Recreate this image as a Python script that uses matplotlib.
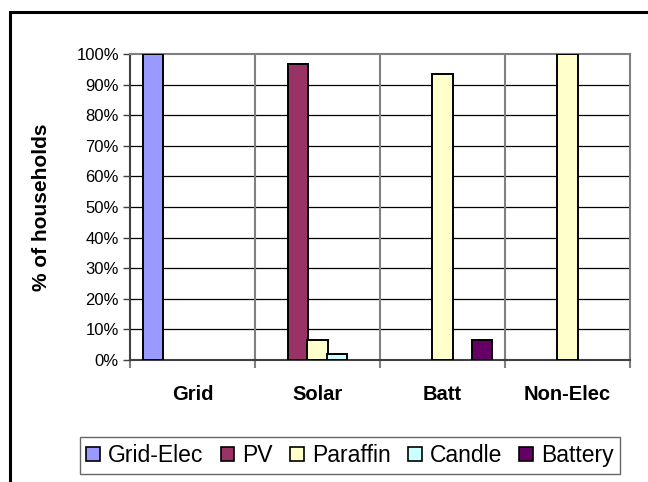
import matplotlib
matplotlib.use("Agg")
import matplotlib.pyplot as plt
from matplotlib.patches import Rectangle, Patch
import numpy as np

plt.rcParams['font.family'] = ['Liberation Sans', 'DejaVu Sans']

categories = ["Grid", "Solar", "Batt", "Non-Elec"]
series_names = ["Grid-Elec", "PV", "Paraffin", "Candle", "Battery"]
grid_elec = [100.0, 0.0, 0.0, 0.0]
pv = [0.0, 96.7, 0.0, 0.0]
paraffin = [0.0, 6.5, 93.4, 100.0]
candle = [0.0, 2.1, 0.0, 0.0]
battery = [0.0, 0.0, 6.5, 0.0]
series_values = [grid_elec, pv, paraffin, candle, battery]
colors = ["#9999FF", "#993366", "#FFFFCC", "#CCFFFF", "#660066"]
y_ticks = list(range(0, 101, 10))

W, H = 648, 482
fig = plt.figure(figsize=(W / 100, H / 100), dpi=100)
ax = fig.add_axes([130 / W, 1 - 360 / H, 500 / W, 306 / H])

x = np.arange(len(categories))
bar_w = 0.163
step = 0.158
for i, (name, vals, col) in enumerate(zip(series_names, series_values, colors)):
    vals = np.asarray(vals)
    keep = vals > 0  # empty categories get no bar outline
    ax.bar(x[keep] + (i - 2) * step, vals[keep], width=bar_w, color=col,
           edgecolor="black", linewidth=1.4, label=name, zorder=3)

ax.set_xlim(-0.5, len(categories) - 0.5)
ax.set_ylim(0, 100)

# horizontal gridlines (black) and category separators (gray)
for v in y_ticks[1:-1]:
    ax.axhline(v, color="black", linewidth=0.9, zorder=1)
for b in np.arange(0.5, len(categories) - 0.5, 1):
    ax.axvline(b, color="#808080", linewidth=1.5, zorder=1)

ax.set_yticks(y_ticks)
ax.set_yticklabels([f"{v}%" for v in y_ticks], fontsize=12)
ax.tick_params(axis="y", direction="out", length=5, width=1, color="#404040", pad=3)

ax.set_xticks(np.arange(-0.5, len(categories), 1))
ax.set_xticklabels([])
ax.tick_params(axis="x", which="major", direction="out", length=6, width=1.5, color="#808080")
ax.set_xticks(x, minor=True)
ax.set_xticklabels(categories, minor=True, fontsize=14.5, fontweight="bold")
ax.tick_params(axis="x", which="minor", length=0, pad=18)

for s in ["top", "right"]:
    ax.spines[s].set_color("#808080")
    ax.spines[s].set_linewidth(1.5)
for s in ["left", "bottom"]:
    ax.spines[s].set_color("#404040")
    ax.spines[s].set_linewidth(1.5)

ax.set_ylabel("% of households", fontsize=15, fontweight="bold")
ax.yaxis.set_label_coords(-79 / 500, 0.5)

handles = [Patch(facecolor=c, edgecolor="black", linewidth=1.2) for c in colors]
leg = fig.legend(handles, series_names, loc="center", ncol=5,
                 bbox_to_anchor=(350 / W, 1 - 455.5 / H), fontsize=16.5,
                 frameon=True, fancybox=False, handlelength=0.6, handleheight=0.6,
                 handletextpad=0.35, columnspacing=0.75, borderpad=0.3)
leg.get_frame().set_edgecolor("#404040")
leg.get_frame().set_linewidth(1.0)

# outer chart border
fig.patches.append(Rectangle((10 / W, -0.1), 1.2, 1 - 12 / H + 0.1,
                             transform=fig.transFigure, fill=False,
                             edgecolor="black", linewidth=2.2))

fig.savefig("out.png", dpi=100)
